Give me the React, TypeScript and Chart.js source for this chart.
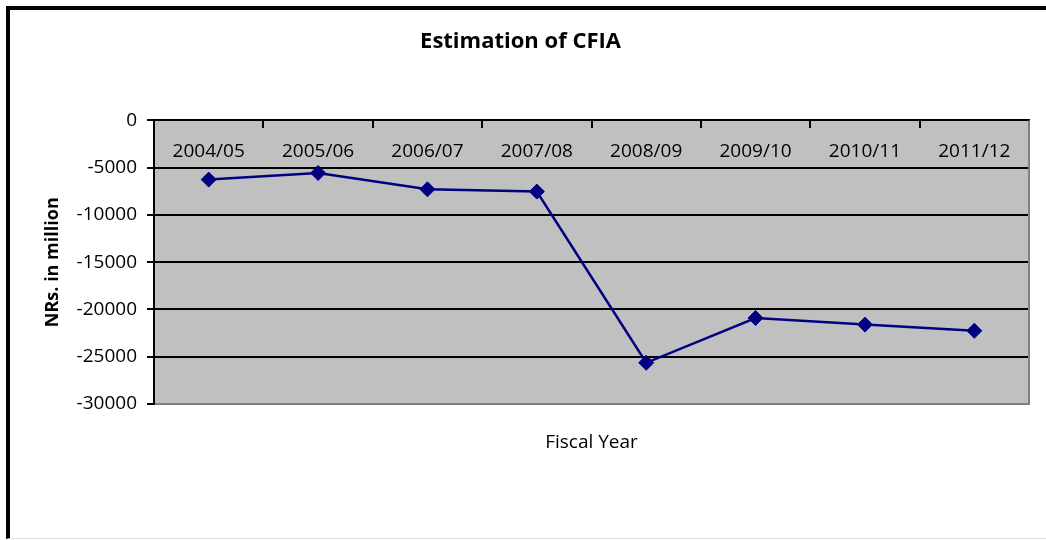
import React, { useEffect, useRef } from "react";
import { Chart, registerables } from "chart.js";

Chart.register(...registerables);

const categories = ["2004/05", "2005/06", "2006/07", "2007/08", "2008/09", "2009/10", "2010/11", "2011/12"];
const cfiaValues = [-6260, -5560, -7290, -7530, -25640, -20900, -21600, -22250];
const yMin = -30000;
const yMax = 0;
const yStep = 5000;

const FONT = "'Open Sans', 'Noto Sans', sans-serif";

const plotBg = {
  id: "plotBg",
  beforeDraw(chart: any) {
    const { ctx, chartArea: a } = chart;
    ctx.save();
    ctx.fillStyle = "#C0C0C0";
    ctx.fillRect(a.left, a.top, a.right - a.left, a.bottom - a.top);
    ctx.restore();
  },
  beforeDatasetsDraw(chart: any) {
    const { ctx, chartArea: a } = chart;
    ctx.save();
    ctx.strokeStyle = "#808080";
    ctx.lineWidth = 2;
    ctx.beginPath();
    ctx.moveTo(a.right, a.top);
    ctx.lineTo(a.right, a.bottom);
    ctx.lineTo(a.left + 1, a.bottom);
    ctx.stroke();
    ctx.restore();
  },
};

export default function App() {
  const ref = useRef<HTMLCanvasElement | null>(null);
  useEffect(() => {
    document.body.style.margin = "0";
    if (!ref.current) return;
    const chart = new Chart(ref.current, {
      type: "line",
      data: {
        labels: categories,
        datasets: [
          {
            label: "CFIA",
            data: cfiaValues,
            borderColor: "#000080",
            backgroundColor: "#000080",
            borderWidth: 2.5,
            pointStyle: "rectRot",
            pointRadius: 7.5,
            pointBorderWidth: 1,
            pointBackgroundColor: "#000080",
            pointBorderColor: "#000080",
            tension: 0,
            xAxisID: "x",
            yAxisID: "y",
          },
        ],
      },
      options: {
        responsive: false,
        animation: false,
        devicePixelRatio: 1,
        layout: { padding: { left: 12, right: 17, top: 0, bottom: 0 } },
        plugins: {
          legend: { display: false },
          tooltip: { enabled: false },
          title: {
            display: true,
            text: "Estimation of CFIA",
            color: "#000",
            font: { family: FONT, size: 22, weight: "bold", lineHeight: 1.2 },
            padding: { top: 29, bottom: 65 },
          },
        },
        scales: {
          x: {
            type: "category",
            position: { y: 0 } as any,
            offset: true,
            grid: {
              drawOnChartArea: false,
              drawTicks: true,
              tickLength: 7,
              color: "#000",
              lineWidth: 2,
              offset: true,
            },
            border: { display: true, color: "#000", width: 2 },
            ticks: {
              color: "#000",
              font: { family: FONT, size: 19 },
              padding: 13,
              maxRotation: 0,
              autoSkip: false,
            },
          },
          x2: {
            type: "category",
            position: "bottom",
            labels: categories,
            grid: { display: false },
            border: { display: false },
            ticks: { display: false },
            title: {
              display: true,
              text: "Fiscal Year",
              color: "#000",
              font: { family: FONT, size: 19, lineHeight: 1.2 },
              padding: { top: 0, bottom: 86 },
            },
            afterFit(s: any) {
              s.height = 136;
            },
          },
          y: {
            type: "linear",
            position: "left",
            min: yMin,
            max: yMax,
            ticks: {
              stepSize: yStep,
              color: "#000",
              font: { family: FONT, size: 19 },
              padding: 10,
              callback: (v: any) => String(v),
            },
            grid: {
              color: (c: any) => (c.tick && c.tick.value === yMin ? "rgba(0,0,0,0)" : "#000"),
              lineWidth: 2,
              tickLength: 7,
              tickColor: "#000",
              tickWidth: 2,
            },
            border: { display: true, color: "#000", width: 2 },
            title: {
              display: true,
              text: "NRs. in million",
              color: "#000",
              font: { family: FONT, size: 18, weight: "bold", lineHeight: 1.2 },
              padding: { top: 30, bottom: 0 },
            },
            afterFit(s: any) {
              s.width = 142;
            },
          },
        },
      },
      plugins: [plotBg],
    });
    return () => chart.destroy();
  }, []);

  return (
    <div style={{ position: "absolute", left: 0, top: 0, width: 1046, height: 540, background: "#fff", overflow: "hidden" }}>
      <div
        style={{
          position: "absolute",
          left: 6,
          top: 6,
          width: 1040,
          height: 533,
          boxSizing: "border-box",
          borderLeft: "4px solid #000",
          borderTop: "4px solid #000",
          borderBottom: "1px solid #e0e0e0",
        }}
      />
      <canvas ref={ref} width={1046} height={540} style={{ position: "absolute", left: 0, top: 0, width: 1046, height: 540 }} />
    </div>
  );
}
